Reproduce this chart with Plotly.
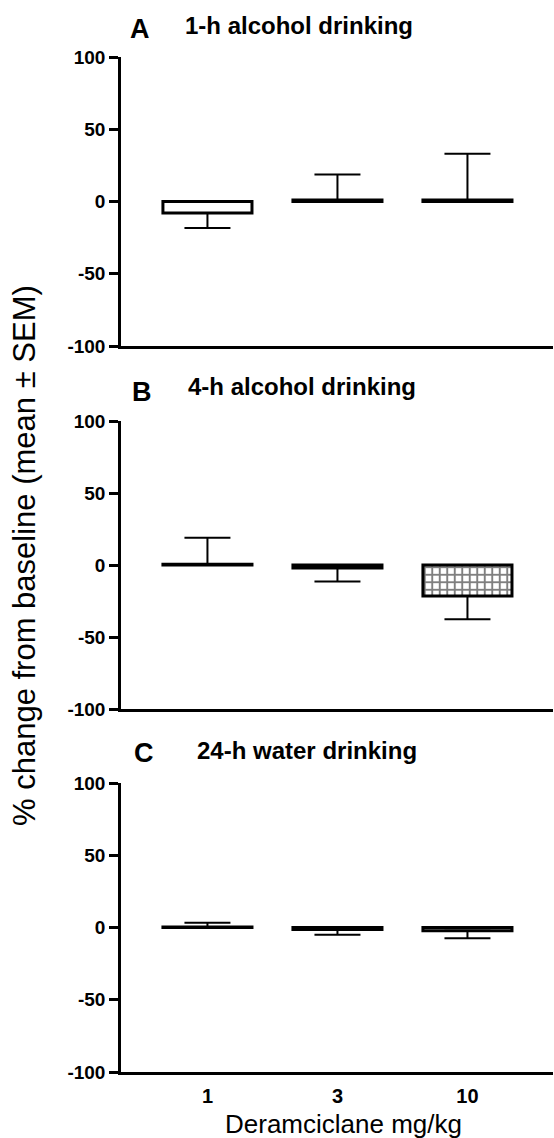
import plotly.graph_objects as go

# ---- data ----
doses = ["1", "3", "10"]
a_mean = [-8, 1, 1]
a_sem = [10.3, 17.7, 32]
b_mean = [0.5, -2, -21.5]
b_sem = [18.5, 9.5, 16.2]
c_mean = [0.3, -1.3, -2.2]
c_sem = [3.0, 3.7, 5.2]
b_patterns = ["", "", "+"]
no_patterns = ["", "", ""]
panel_letters = ["A", "B", "C"]
panel_titles = ["1-h alcohol drinking", "4-h alcohol drinking", "24-h water drinking"]
y_ticks = [-100, -50, 0, 50, 100]
x_title = "Deramciclane mg/kg"
y_title = "% change from baseline (mean \u00b1 SEM)"

FONT = "Liberation Sans, Arial, Helvetica, sans-serif"
W, H = 554, 1138
ML, MR, MT, MB = 121, 1, 57, 66
PW = W - ML - MR
PH = H - MT - MB


def py(p):
    return (H - MB - p) / PH


def pxx(p):
    return (p - ML) / PW


tops = [57, 421, 783]
bottoms = [346, 709, 1072]

fig = go.Figure()

series = [(a_mean, a_sem, no_patterns), (b_mean, b_sem, b_patterns), (c_mean, c_sem, no_patterns)]
for i, (m, s, pat) in enumerate(series):
    plus = [e if v >= 0 else 0 for v, e in zip(m, s)]
    minus = [e if v < 0 else 0 for v, e in zip(m, s)]
    suffix = "" if i == 0 else str(i + 1)
    fig.add_trace(go.Bar(
        x=doses, y=m,
        xaxis="x" + suffix, yaxis="y" + suffix,
        marker=dict(color="white", line=dict(color="black", width=3),
                    pattern=dict(shape=pat, fgcolor="black", bgcolor="white",
                                 size=7.5, solidity=0.45, fillmode="overlay")),
        error_y=dict(type="data", symmetric=False, array=plus, arrayminus=minus,
                     color="black", thickness=2, width=23),
        showlegend=False,
    ))

layout = dict(
    width=W, height=H,
    margin=dict(l=ML, r=MR, t=MT, b=MB),
    paper_bgcolor="white", plot_bgcolor="white",
    bargap=0.315,
    font=dict(family=FONT, color="black"),
    annotations=[],
)

for i in range(3):
    suffix = "" if i == 0 else str(i + 1)
    dom = [py(bottoms[i]), py(tops[i])]
    layout["xaxis" + suffix] = dict(
        domain=[0, 1], anchor="y" + suffix, type="category",
        range=[-0.665, 2.658], showline=True, linecolor="black", linewidth=2.5,
        showgrid=False, zeroline=False, ticks="",
        showticklabels=(i == 2), ticklabelstandoff=4,
        tickfont=dict(family=FONT, size=20, color="black", weight="bold"),
    )
    layout["yaxis" + suffix] = dict(
        domain=dom, anchor="x" + suffix, range=[-100, 100],
        tickvals=y_ticks, ticktext=[str(t) for t in y_ticks],
        showline=True, linecolor="black", linewidth=2.5,
        ticks="outside", ticklen=9, tickwidth=2.5, tickcolor="black",
        showgrid=False, zeroline=False,
        tickfont=dict(family=FONT, size=19, color="black", weight="bold"),
    )

letter_pos = [(128, 28.5), (130, 391.5), (132, 753.5)]
title_pos = [(183, 26), (186, 386), (195, 750)]
for i in range(3):
    lx, ly = letter_pos[i]
    tx, ty = title_pos[i]
    layout["annotations"].append(dict(
        text=panel_letters[i], xref="paper", yref="paper", x=pxx(lx), y=py(ly),
        xanchor="left", yanchor="middle", showarrow=False,
        font=dict(family=FONT, size=27, color="black", weight="bold")))
    layout["annotations"].append(dict(
        text=panel_titles[i], xref="paper", yref="paper", x=pxx(tx), y=py(ty),
        xanchor="left", yanchor="middle", showarrow=False,
        font=dict(family=FONT, size=24, color="black", weight="bold")))

layout["annotations"].append(dict(
    text=y_title, xref="paper", yref="paper", x=pxx(24), y=py(556),
    xanchor="center", yanchor="middle", textangle=-90, showarrow=False,
    font=dict(family=FONT, size=31, color="black")))
layout["annotations"].append(dict(
    text=x_title, xref="paper", yref="paper", x=pxx(343.5), y=py(1124),
    xanchor="center", yanchor="middle", showarrow=False,
    font=dict(family=FONT, size=26, color="black")))

fig.update_layout(**layout)
fig.write_html("out.html", config={"displayModeBar": False},
               post_script="document.body.style.margin='0px';document.body.style.padding='0px';")
